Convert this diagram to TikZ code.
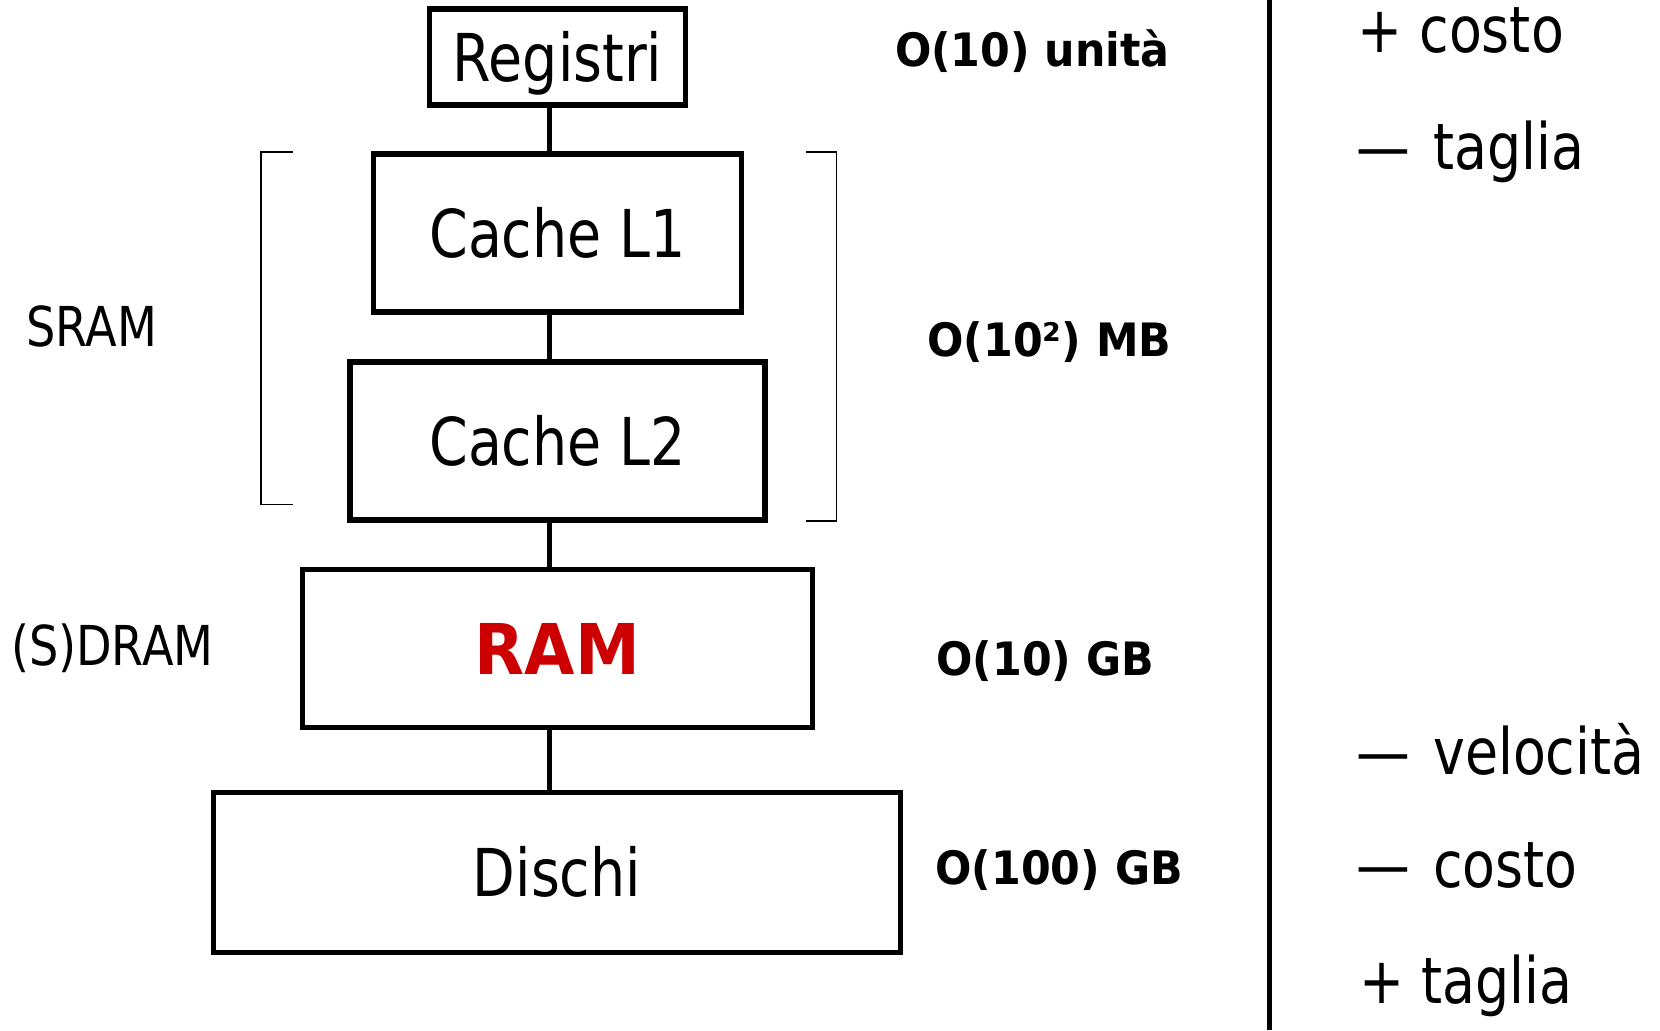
\documentclass[tikz,border=0pt]{standalone}
\usepackage{fontspec}
\setmainfont[FakeStretch=0.84]{DejaVu Sans}
\newfontfamily\sizefont[FakeStretch=0.93]{DejaVu Sans}
\definecolor{ramred}{RGB}{204,0,0}

\begin{document}
\begin{tikzpicture}[x=0.5pt, y=-0.5pt,
  memblock/.style={draw, line width=2.75pt, inner sep=0pt, text height=24pt, text depth=-3pt,
    font=\fontsize{33}{40}\selectfont},
  sizelabel/.style={anchor=base west, inner sep=0pt, font=\sizefont\bfseries\fontsize{23}{28}\selectfont},
  trend/.style={anchor=base west, inner sep=0pt, font=\fontsize{32}{38}\selectfont},
  tech/.style={anchor=base west, inner sep=0pt, font=\fontsize{27.5}{33}\selectfont},
  link/.style={line width=2.75pt},
  bracket/.style={line width=0.7pt}]
  \useasboundingbox (0, 0) rectangle (1660, 1030);

  % Memory levels
  \node[memblock, minimum width=128pt, minimum height=48pt] (reg) at (557.4, 57.2) {Registri};
  \node[memblock, minimum width=184pt, minimum height=79pt] (l1) at (557.4, 233) {Cache L1};
  \node[memblock, minimum width=207.5pt, minimum height=79pt] (l2) at (557.4, 441) {Cache L2};
  \node[memblock, minimum width=255pt, minimum height=79pt, text=ramred, text height=25.5pt,
    font=\sizefont\bfseries\fontsize{35}{42}\selectfont] (ram) at (557.4, 648.5) {RAM};
  \node[memblock, minimum width=343.5pt, minimum height=80pt] (disk) at (556.9, 872.4) {Dischi};

  % Links between levels
  \coordinate (axis) at (549.5, 0);
  \draw[link] (reg.south -| axis) -- (l1.north -| axis);
  \draw[link] (l1.south -| axis) -- (l2.north -| axis);
  \draw[link] (l2.south -| axis) -- (ram.north -| axis);
  \draw[link] (ram.south -| axis) -- (disk.north -| axis);

  % Brackets round the caches
  \draw[bracket] (293, 152) -- (261, 152) -- (261, 504.5) -- (293, 504.5);
  \draw[bracket] (805.7, 152) -- (836.4, 152) -- (836.4, 521) -- (805.7, 521);

  % Technology
  \node[tech] (sram) at (26, 346) {SRAM};
  \node[tech] (dram) at (10.6, 665) {(S)DRAM};

  % Sizes
  \node[sizelabel] (dimreg) at (894.6, 66.7) {O(10) unità};
  \node[sizelabel] (dimcache) at (927, 356.8) {O(10²) MB};
  \node[sizelabel] (dimram) at (936, 675.5) {O(10) GB};
  \node[sizelabel] (dimdisk) at (935, 884) {O(100) GB};

  % Divider
  \draw[line width=2.8pt] (1269.5, 0) -- (1269.5, 1030);

  % Trends
  \node[trend] (pluscost) at (1357, 52.9) {+ costo};
  \node[trend] (minsize) at (1356, 169) {— \hspace{3pt}taglia};
  \node[trend] (minspeed) at (1356, 774) {— \hspace{3pt}velocità};
  \node[trend] (mincost) at (1356, 887) {— \hspace{3pt}costo};
  \node[trend] (plussize) at (1359, 1003.6) {+ taglia};
\end{tikzpicture}
\end{document}
